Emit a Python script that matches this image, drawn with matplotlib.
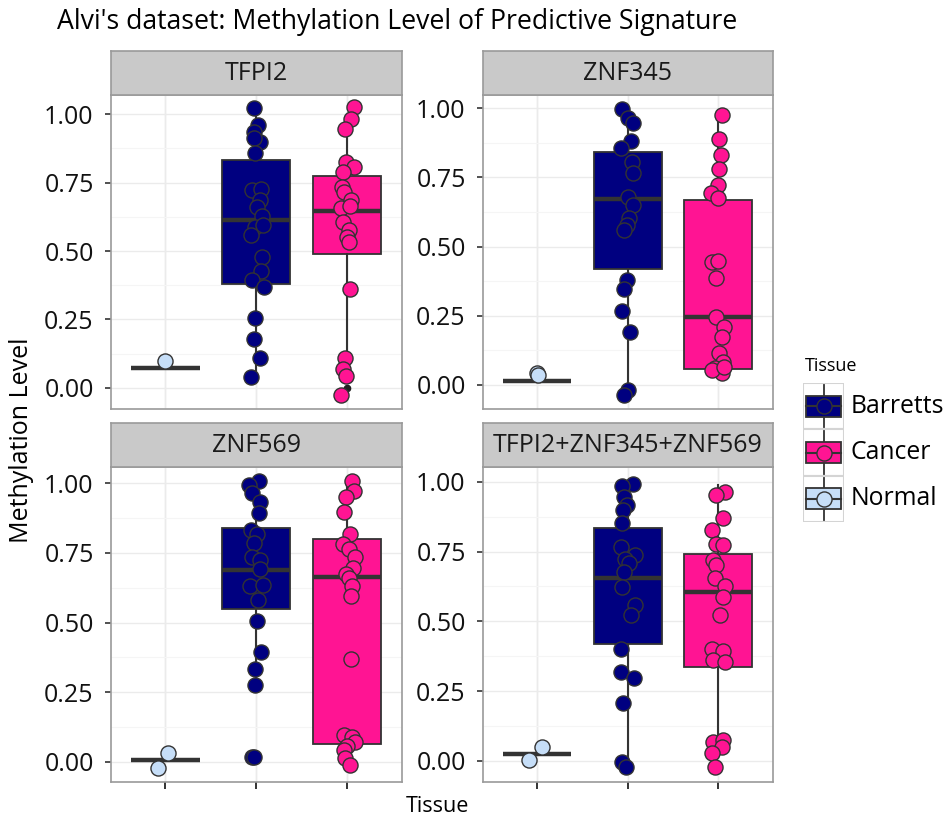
import numpy as np
import matplotlib
matplotlib.use("Agg")
import matplotlib.pyplot as plt
from matplotlib.patches import Rectangle

plt.rcParams['font.family'] = ['Open Sans', 'DejaVu Sans']

TISSUES = ["Normal", "Barretts", "Cancer"]
COLORS = {"Normal": "#C6DEF8", "Barretts": "#000080", "Cancer": "#FF1493"}
GENES = ["TFPI2", "ZNF345", "ZNF569", "TFPI2+ZNF345+ZNF569"]

# box stats per gene, order Normal, Barretts, Cancer
TFPI2_Q1 = [0.073, 0.378, 0.488]
TFPI2_MED = [0.073, 0.615, 0.646]
TFPI2_Q3 = [0.073, 0.832, 0.774]
TFPI2_LO = [0.073, 0.040, 0.045]
TFPI2_HI = [0.073, 1.000, 0.930]
TFPI2_FLIERS = [[], [], [0.0]]

ZNF345_Q1 = [0.0145, 0.418, 0.059]
ZNF345_MED = [0.0145, 0.671, 0.247]
ZNF345_Q3 = [0.0145, 0.841, 0.669]
ZNF345_LO = [0.0145, -0.015, 0.045]
ZNF345_HI = [0.0145, 0.990, 0.976]
ZNF345_FLIERS = [[], [], []]

ZNF569_Q1 = [0.006, 0.549, 0.062]
ZNF569_MED = [0.006, 0.689, 0.665]
ZNF569_Q3 = [0.006, 0.841, 0.800]
ZNF569_LO = [0.006, 0.275, 0.000]
ZNF569_HI = [0.006, 1.000, 1.000]
ZNF569_FLIERS = [[], [], []]

COMBO_Q1 = [0.026, 0.417, 0.335]
COMBO_MED = [0.026, 0.654, 0.606]
COMBO_Q3 = [0.026, 0.833, 0.740]
COMBO_LO = [0.026, -0.010, 0.030]
COMBO_HI = [0.026, 0.990, 0.990]
COMBO_FLIERS = [[], [], []]

# jittered points: y values and x offsets (category units)
TFPI2_NORMAL_Y = [0.099]
TFPI2_NORMAL_DX = [0.0]
TFPI2_BARRETTS_Y = [1.022, 0.961, 0.937, 0.898, 0.912, 0.860, 0.723, 0.726, 0.687, 0.660, 0.628,
                    0.589, 0.595, 0.559, 0.479, 0.428, 0.394, 0.370, 0.254, 0.177, 0.107, 0.040]
TFPI2_BARRETTS_DX = [-0.022, 0.015, -0.030, 0.044, -0.022, -0.011, -0.048, 0.055, 0.037, 0.007, 0.063,
                     -0.011, 0.074, -0.059, 0.063, 0.055, -0.048, 0.081, -0.011, -0.022, 0.044, -0.059]
TFPI2_CANCER_Y = [1.026, 0.982, 0.945, 0.827, 0.806, 0.790, 0.735, 0.717, 0.687, 0.656, 0.665,
                  0.607, 0.577, 0.552, 0.534, 0.360, 0.107, 0.067, 0.043, -0.027]
TFPI2_CANCER_DX = [0.074, 0.044, -0.018, -0.007, 0.074, -0.044, -0.055, -0.037, 0.044, -0.066, 0.030,
                   -0.044, 0.018, 0.0, 0.018, 0.037, -0.026, -0.044, -0.007, -0.066]

ZNF345_NORMAL_Y = [0.045, 0.036]
ZNF345_NORMAL_DX = [0.0, 0.011]
ZNF345_BARRETTS_Y = [0.996, 0.964, 0.946, 0.880, 0.855, 0.807, 0.765, 0.681, 0.651, 0.602, 0.578,
                     0.560, 0.380, 0.346, 0.269, 0.190, -0.018, -0.036]
ZNF345_BARRETTS_DX = [-0.067, 0.007, 0.056, 0.037, -0.074, 0.044, 0.056, 0.007, 0.063, 0.019, -0.011,
                      -0.041, -0.011, -0.041, -0.067, 0.026, 0.007, -0.041]
ZNF345_CANCER_Y = [0.976, 0.888, 0.831, 0.780, 0.723, 0.693, 0.675, 0.446, 0.449, 0.386, 0.247,
                   0.211, 0.172, 0.114, 0.084, 0.063, 0.042, 0.054, 0.066]
ZNF345_CANCER_DX = [0.037, 0.011, 0.026, 0.011, 0.0, -0.085, 0.0, -0.074, 0.0, -0.026, -0.026,
                    0.063, 0.037, 0.011, 0.056, -0.037, 0.037, -0.074, 0.063]

ZNF569_NORMAL_Y = [0.032, -0.024]
ZNF569_NORMAL_DX = [0.030, -0.077]
ZNF569_BARRETTS_Y = [1.010, 0.996, 0.964, 0.934, 0.892, 0.832, 0.818, 0.787, 0.737, 0.725, 0.691,
                     0.631, 0.635, 0.581, 0.505, 0.395, 0.332, 0.275, 0.018, 0.016]
ZNF569_BARRETTS_DX = [0.026, -0.085, -0.048, 0.037, 0.026, -0.059, 0.007, -0.030, -0.048, 0.037, 0.044,
                      -0.074, 0.074, 0.015, 0.007, 0.055, -0.011, -0.011, -0.048, -0.022]
ZNF569_CANCER_Y = [1.008, 0.972, 0.952, 0.896, 0.820, 0.782, 0.763, 0.737, 0.695, 0.674, 0.659,
                   0.631, 0.595, 0.368, 0.096, 0.090, 0.072, 0.056, 0.042, 0.012, -0.012]
ZNF569_CANCER_DX = [0.055, 0.081, -0.007, -0.030, 0.037, -0.044, 0.018, 0.092, 0.066, -0.007, 0.018,
                    0.055, 0.044, 0.044, -0.037, 0.055, 0.092, 0.0, -0.037, -0.018, 0.030]

COMBO_NORMAL_Y = [0.048, 0.002]
COMBO_NORMAL_DX = [0.056, -0.093]
COMBO_BARRETTS_Y = [0.992, 0.984, 0.944, 0.916, 0.898, 0.851, 0.767, 0.737, 0.725, 0.710, 0.677,
                    0.624, 0.558, 0.522, 0.399, 0.319, 0.295, 0.208, -0.004, -0.022]
COMBO_BARRETTS_DX = [0.063, -0.067, -0.041, -0.011, -0.056, -0.067, -0.078, 0.081, -0.030, 0.019, -0.041,
                     -0.067, 0.081, 0.037, -0.078, -0.078, 0.074, -0.056, -0.067, -0.019]
COMBO_CANCER_Y = [0.964, 0.952, 0.869, 0.827, 0.777, 0.773, 0.719, 0.701, 0.654, 0.626, 0.588,
                  0.522, 0.399, 0.394, 0.361, 0.355, 0.068, 0.074, 0.050, 0.029, -0.024]
COMBO_CANCER_DX = [0.074, -0.019, 0.056, -0.074, -0.026, 0.048, -0.063, -0.019, -0.037, 0.074, 0.048,
                   0.019, -0.074, 0.056, -0.056, 0.074, -0.056, 0.056, 0.037, -0.074, -0.037]

BOXES = {
    "TFPI2": (TFPI2_Q1, TFPI2_MED, TFPI2_Q3, TFPI2_LO, TFPI2_HI, TFPI2_FLIERS),
    "ZNF345": (ZNF345_Q1, ZNF345_MED, ZNF345_Q3, ZNF345_LO, ZNF345_HI, ZNF345_FLIERS),
    "ZNF569": (ZNF569_Q1, ZNF569_MED, ZNF569_Q3, ZNF569_LO, ZNF569_HI, ZNF569_FLIERS),
    "TFPI2+ZNF345+ZNF569": (COMBO_Q1, COMBO_MED, COMBO_Q3, COMBO_LO, COMBO_HI, COMBO_FLIERS),
}
POINTS = {
    "TFPI2": [(TFPI2_NORMAL_Y, TFPI2_NORMAL_DX), (TFPI2_BARRETTS_Y, TFPI2_BARRETTS_DX),
              (TFPI2_CANCER_Y, TFPI2_CANCER_DX)],
    "ZNF345": [(ZNF345_NORMAL_Y, ZNF345_NORMAL_DX), (ZNF345_BARRETTS_Y, ZNF345_BARRETTS_DX),
               (ZNF345_CANCER_Y, ZNF345_CANCER_DX)],
    "ZNF569": [(ZNF569_NORMAL_Y, ZNF569_NORMAL_DX), (ZNF569_BARRETTS_Y, ZNF569_BARRETTS_DX),
               (ZNF569_CANCER_Y, ZNF569_CANCER_DX)],
    "TFPI2+ZNF345+ZNF569": [(COMBO_NORMAL_Y, COMBO_NORMAL_DX), (COMBO_BARRETTS_Y, COMBO_BARRETTS_DX),
                            (COMBO_CANCER_Y, COMBO_CANCER_DX)],
}

W, H = 951, 821
fig = plt.figure(figsize=(W / 100, H / 100), dpi=100)
fig.patch.set_facecolor("white")


def px_axes(x0, y0, x1, y1, **kw):
    return fig.add_axes([x0 / W, 1 - y1 / H, (x1 - x0) / W, (y1 - y0) / H], **kw)


# panel pixel boxes: (x0, y0, x1, y1), strip top, ylim
LAYOUT = {
    "TFPI2": ((111, 95, 401.5, 409.3), 51, (-0.079, 1.0706)),
    "ZNF345": ((483, 95, 772.5, 409.3), 51, (-0.088, 1.048)),
    "ZNF569": ((111, 467, 401.5, 781.7), 423, (-0.072, 1.059)),
    "TFPI2+ZNF345+ZNF569": ((483, 467, 772.5, 781.7), 423, (-0.075, 1.053)),
}
EDGE = "#333333"
PT_SIZE = 118

for gi, gene in enumerate(GENES):
    (x0, y0, x1, y1), stop, ylim = LAYOUT[gene]
    ax = px_axes(x0, y0, x1, y1)
    ax.set_xlim(0.4, 3.6)
    ax.set_ylim(*ylim)
    ax.set_yticks([0, 0.25, 0.5, 0.75, 1.0])
    ax.set_yticklabels(["0.00", "0.25", "0.50", "0.75", "1.00"])
    ax.set_yticks([0.125, 0.375, 0.625, 0.875], minor=True)
    ax.set_xticks([1, 2, 3])
    ax.grid(True, which="major", color="#EBEBEB", lw=1.0, zorder=0)
    ax.grid(True, which="minor", axis="y", color="#F5F5F5", lw=0.8, zorder=0)
    ax.set_axisbelow(True)
    for s in ax.spines.values():
        s.set_color("#9A9A9A")
        s.set_linewidth(1.2)
    ax.tick_params(axis="y", which="major", length=4.5, width=1.2, color=EDGE,
                   labelsize=18, labelcolor="#111111", pad=8)
    ax.tick_params(axis="y", which="minor", length=0)
    bottom = gi >= 2
    ax.tick_params(axis="x", length=5 if bottom else 0, width=1.2, color=EDGE,
                   labelbottom=False)

    q1, med, q3, lo, hi, fl = BOXES[gene]
    stats = []
    for i in range(3):
        stats.append(dict(q1=q1[i], med=med[i], q3=q3[i], whislo=lo[i], whishi=hi[i],
                          fliers=fl[i]))
    bp = ax.bxp(stats, positions=[1, 2, 3], widths=0.75, patch_artist=True, showcaps=False,
                boxprops=dict(edgecolor=EDGE, linewidth=1.3),
                whiskerprops=dict(color=EDGE, linewidth=1.5),
                medianprops=dict(color=EDGE, linewidth=3.2, solid_capstyle="butt"),
                flierprops=dict(marker="o", markersize=4.5, markerfacecolor="#222222",
                                markeredgecolor="#222222"),
                zorder=2)
    for patch, t in zip(bp["boxes"], TISSUES):
        patch.set_facecolor(COLORS[t])

    for i, t in enumerate(TISSUES):
        yv, dx = POINTS[gene][i]
        xs = (i + 1) + np.asarray(dx)
        ax.scatter(xs, yv, s=PT_SIZE, c=COLORS[t], edgecolors=EDGE, linewidths=1.0, zorder=3)

    # facet strip
    sax = px_axes(x0, stop, x1, y0)
    sax.set_facecolor("#C9C9C9")
    sax.set_xticks([])
    sax.set_yticks([])
    for s in sax.spines.values():
        s.set_color("#9A9A9A")
        s.set_linewidth(1.2)
    sax.text(0.5, 0.5, gene, ha="center", va="center", fontsize=18, color="#1A1A1A",
             transform=sax.transAxes)

fig.text(57 / W, 1 - 22 / H, "Alvi's dataset: Methylation Level of Predictive Signature",
         ha="left", va="center", fontsize=19.2, color="black")
fig.text(22 / W, 1 - 440 / H, "Methylation Level", ha="center", va="center", rotation=90,
         fontsize=18, color="black")
fig.text(437 / W, 1 - 806 / H, "Tissue", ha="center", va="center", fontsize=15.5, color="black")

# legend
fig.text(805 / W, 1 - 366 / H, "Tissue", ha="left", va="center", fontsize=13, color="black")
lax = px_axes(803, 383, 844, 522)
lax.set_xlim(0, 1)
lax.set_ylim(3, 0)
lax.axis("off")
LEGEND_ORDER = ["Barretts", "Cancer", "Normal"]
for k, t in enumerate(LEGEND_ORDER):
    lax.add_patch(Rectangle((0, k), 1, 1, facecolor="white", edgecolor="#D4D4D4", lw=1.5,
                            zorder=1))
    lax.plot([0.5, 0.5], [k + 0.04, k + 0.96], color=EDGE, lw=1.3, zorder=2)
    lax.add_patch(Rectangle((0.07, k + 0.27), 0.86, 0.46, facecolor=COLORS[t], edgecolor=EDGE,
                            lw=1.3, zorder=3))
    lax.plot([0.07, 0.93], [k + 0.5, k + 0.5], color=EDGE, lw=1.5, zorder=4)
    lax.scatter([0.5], [k + 0.5], s=PT_SIZE, c=COLORS[t], edgecolors=EDGE, linewidths=1.0,
                zorder=5)
    fig.text(851 / W, 1 - (383 + 46.3 * (k + 0.5)) / H, t, ha="left", va="center", fontsize=17.8,
             color="black")

fig.savefig("out.png", dpi=100)
